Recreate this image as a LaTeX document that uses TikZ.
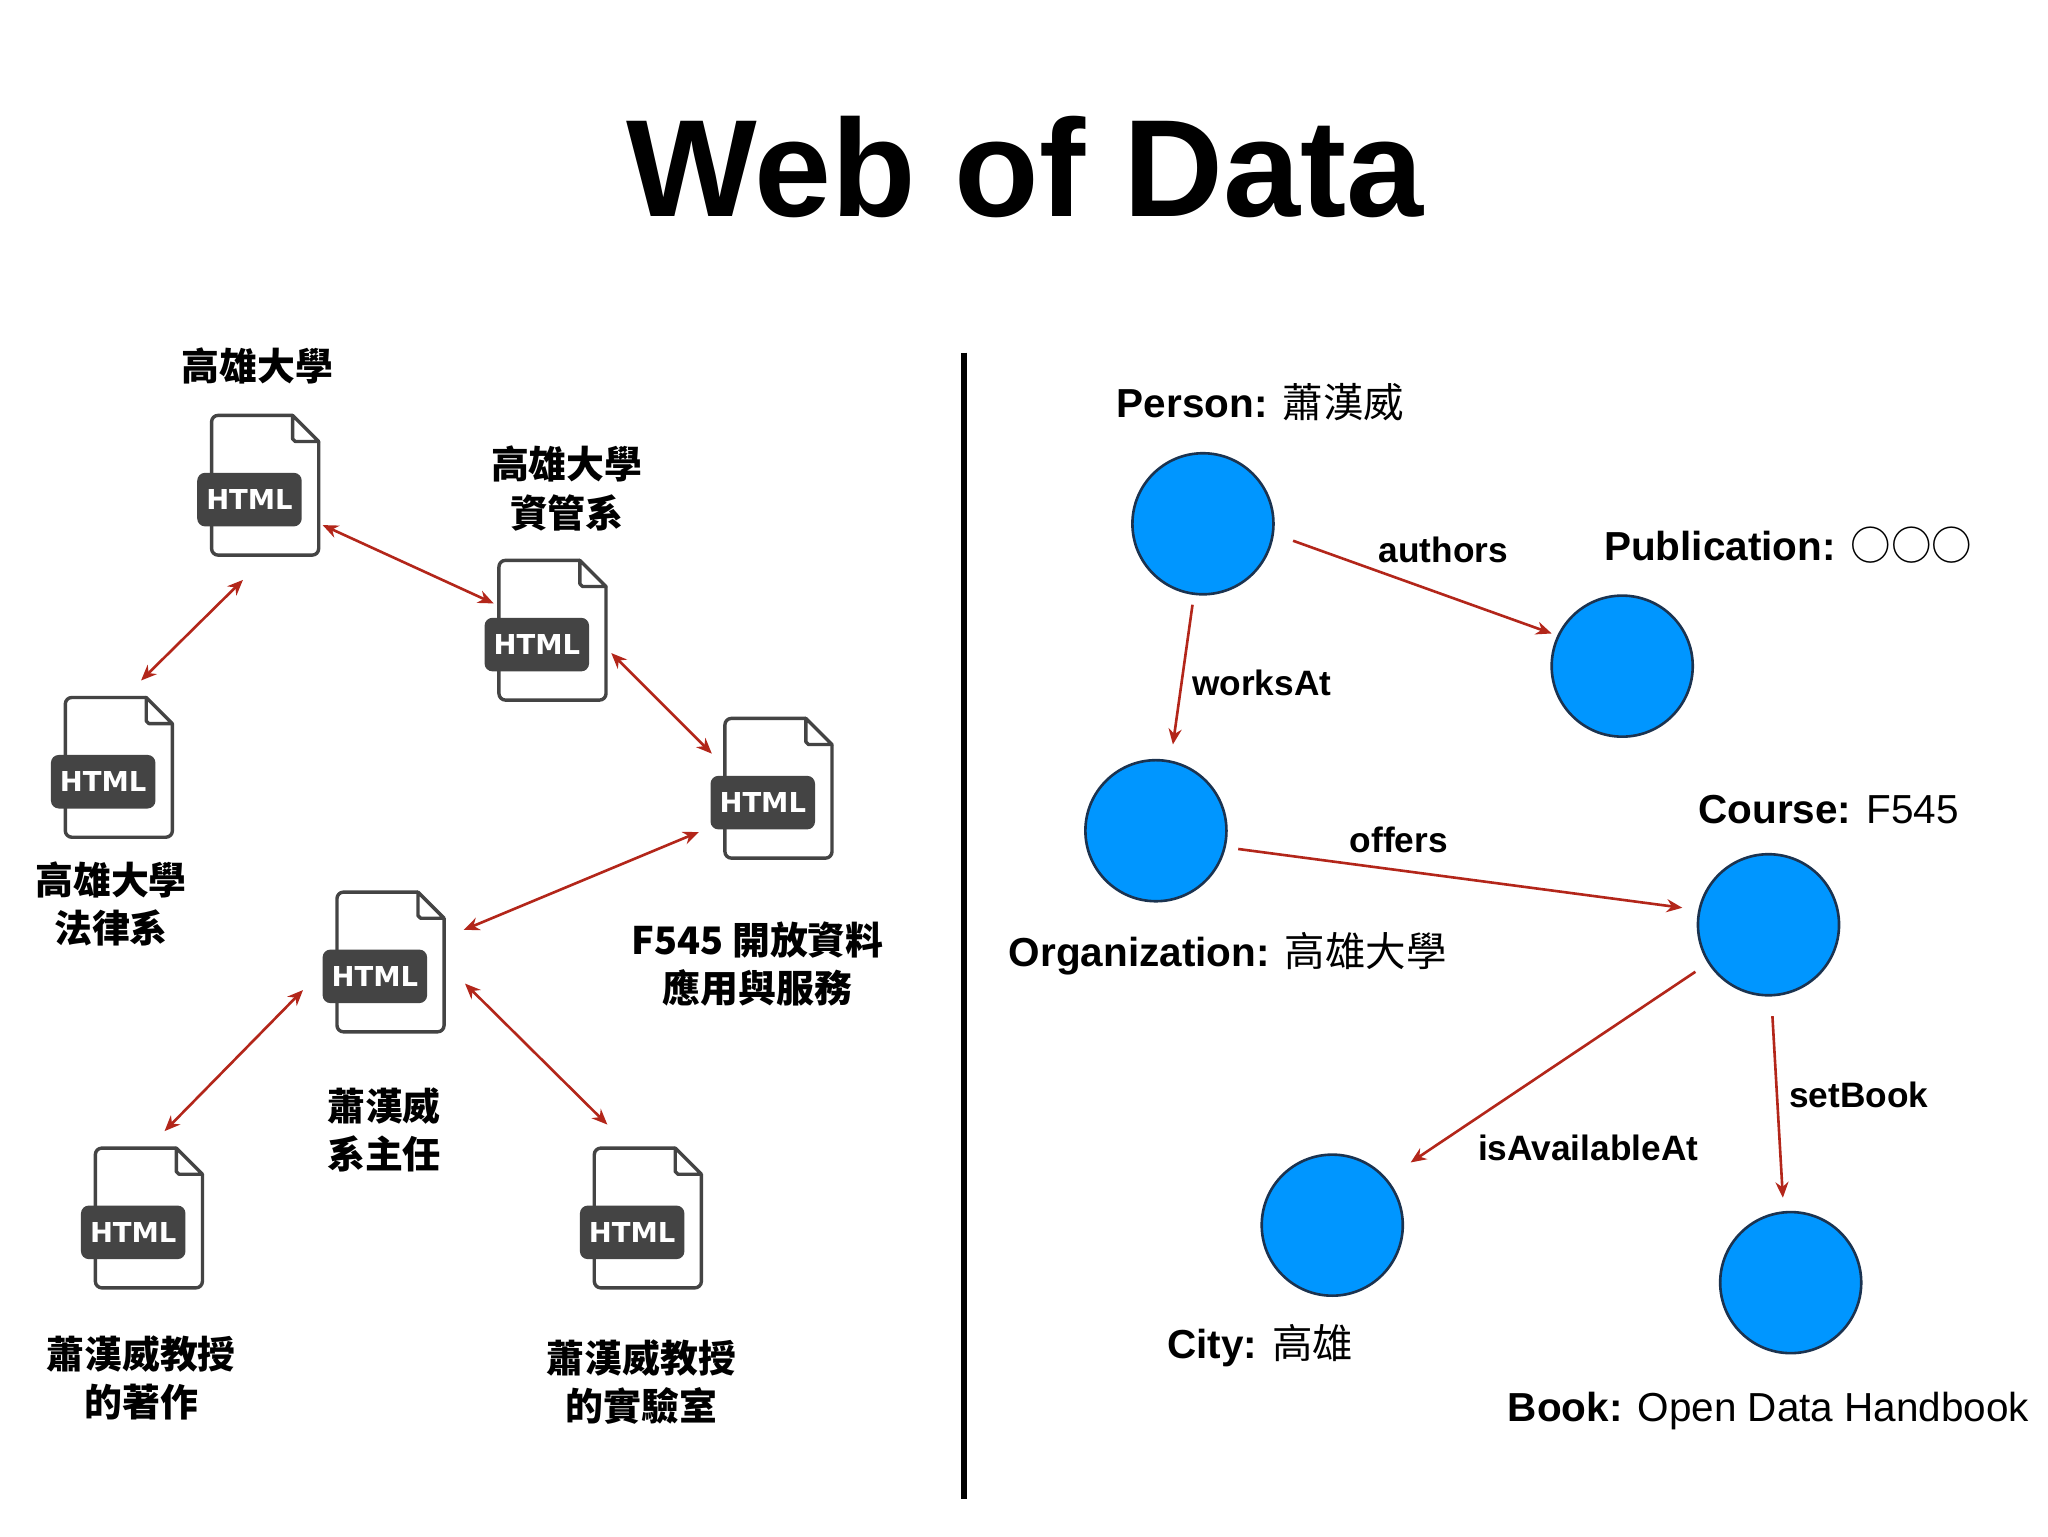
\documentclass[tikz,border=0pt]{standalone}
\usepackage{fontspec}
\setmainfont{Liberation Sans}
\newfontfamily\cjk{Noto Sans CJK TC}
\newfontfamily\heavy{DejaVu Sans}
\usetikzlibrary{arrows.meta}
\definecolor{ared}{HTML}{B3261A}
\definecolor{dot}{HTML}{0096FF}
\definecolor{dotline}{HTML}{1B3350}
\definecolor{icon}{HTML}{444444}
\tikzset{
 arr/.style={draw=ared,line width=2pt,-{Stealth[length=12pt,width=10pt]}},
 darr/.style={arr,{Stealth[length=12pt,width=10pt]}-{Stealth[length=12pt,width=10pt]}},
 dot/.style={circle,fill=dot,draw=dotline,line width=2pt,minimum size=108pt,inner sep=0pt},
 lab/.style={font=\fontsize{29}{33}\selectfont\cjk\bfseries,align=center,inner sep=0pt},
 rlab/.style={font=\fontsize{31}{35}\selectfont,inner sep=0pt},
 elab/.style={font=\fontsize{27}{30}\selectfont\bfseries,inner sep=0pt},
}
\newcommand\htmlicon[3]{%
 \begin{scope}[shift={(#1,#2)}]
  \draw[icon,line width=2.6pt,rounded corners=5pt,line join=round] (62,0)--(0,0)--(0,107)--(82,107)--(82,20);
  \draw[icon,line width=2.6pt,line join=round,fill=white] (62,0)--(82,20)--(64,20)--(62,18)--cycle;
  \node[fill=icon,rounded corners=6pt,minimum width=80pt,minimum height=41pt,inner sep=0pt,text=white,font=\fontsize{21}{21}\selectfont\heavy\bfseries] (#3) at (29,64.5) {HTML};
 \end{scope}}
\begin{document}
\begin{tikzpicture}[x=1pt,y=-1pt]
\useasboundingbox[fill=white] (0,0) rectangle (1568,1176);
\node[font=\fontsize{106}{106}\selectfont\bfseries] (title) at (785,128) {Web of Data};
\htmlicon{162}{318}{i1}
\htmlicon{382}{429}{i2}
\htmlicon{50}{534}{i3}
\htmlicon{555}{550}{i4}
\htmlicon{258}{683}{i5}
\htmlicon{73}{879}{i6}
\htmlicon{455}{879}{i7}
\foreach \n/\x/\y in {a1/247/402,a2/378/462,b1/186/444,b2/108/521,c1/468/500,c2/545/577,d1/535/637,d2/355/712,e1/232/758,e2/126/866,f1/356/753,f2/465/861}
  \coordinate (\n) at (\x,\y);
\draw[darr] (a1)--(a2);
\draw[darr] (b1)--(b2);
\draw[darr] (c1)--(c2);
\draw[darr] (d1)--(d2);
\draw[darr] (e1)--(e2);
\draw[darr] (f1)--(f2);
\node[lab] (l1) at (197,280) {高雄大學};
\node[lab] (l2) at (434,374) {高雄大學\\[4pt]資管系};
\node[lab] (l3) at (85,692) {高雄大學\\[4pt]法律系};
\node[lab] (l4) at (580,738) {F545 開放資料\\[4pt]應用與服務};
\node[lab] (l5) at (294,865) {蕭漢威\\[4pt]系主任};
\node[lab] (l6) at (108,1055) {蕭漢威教授\\[4pt]的著作};
\node[lab] (l7) at (491,1058) {蕭漢威教授\\[4pt]的實驗室};
\coordinate (v1) at (738,270); \coordinate (v2) at (738,1148);
\draw[line width=4pt] (v1)--(v2);
\node[dot] (p) at (921,401) {};
\node[dot] (pub) at (1242,510) {};
\node[dot] (org) at (885,636) {};
\node[dot] (course) at (1354,708) {};
\node[dot] (city) at (1020,938) {};
\node[dot] (book) at (1371,982) {};
\foreach \n/\x/\y in {g1/990/414,g2/1188/485,h1/913/463,h2/898/570,k1/948/650,k2/1288/695,m1/1298/744,m2/1080/890,n1/1357/778,n2/1365/917}
  \coordinate (\n) at (\x,\y);
\draw[arr] (g1)--(g2);
\draw[arr] (h1)--(h2);
\draw[arr] (k1)--(k2);
\draw[arr] (m1)--(m2);
\draw[arr] (n1)--(n2);
\node[elab] (t1) at (1105,421) {authors};
\node[elab] (t2) at (966,523) {worksAt};
\node[elab] (t3) at (1071,643) {offers};
\node[elab] (t4) at (1216,879) {isAvailableAt};
\node[elab] (t5) at (1423,838) {setBook};
\node[rlab] (r1) at (965,308) {\textbf{Person:} {\cjk 蕭漢威}};
\node[rlab] (r2) at (1369,417) {\textbf{Publication:} {\cjk ○○○}};
\node[rlab] (r3) at (1400,620) {\textbf{Course:} F545};
\node[rlab] (r4) at (940,730) {\textbf{Organization:} {\cjk 高雄大學}};
\node[rlab] (r5) at (965,1030) {\textbf{City:} {\cjk 高雄}};
\node[rlab] (r6) at (1354,1080) {\textbf{Book:} Open Data Handbook};
\end{tikzpicture}
\end{document}
